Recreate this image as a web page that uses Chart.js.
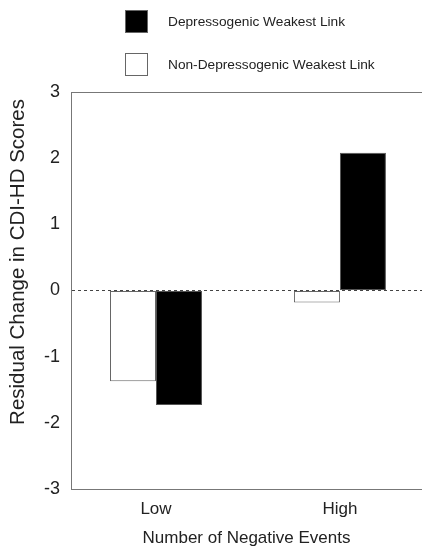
<!DOCTYPE html>
<html><head><meta charset="utf-8">
<script src="https://cdn.jsdelivr.net/npm/chart.js@4/dist/chart.umd.min.js"></script>
<style>html,body{margin:0;padding:0;background:#fff;}canvas{display:block;}</style>
</head><body>
<canvas id="c" width="422" height="548" style="width:422px;height:548px"></canvas>
<script>
const categories = ['Low', 'High'];
const nonDepressogenic = [-1.37, -0.18];
const depressogenic = [-1.73, 2.08];
const seriesLabels = ['Non-Depressogenic Weakest Link', 'Depressogenic Weakest Link'];
const yTicks = [-3, -2, -1, 0, 1, 2, 3];
const yTitle = 'Residual Change in CDI-HD Scores';
const xTitle = 'Number of Negative Events';

const FONT = "'Liberation Sans', Arial, sans-serif";
const toPoints = arr => arr.map((v, i) => ({x: i, y: v}));

const annotPlugin = {
  id: 'sideLegend',
  afterDraw(chart) {
    const ctx = chart.ctx;
    const ds = chart.data.datasets.slice().reverse();
    ctx.save();
    ds.forEach((d, i) => {
      const y = 10 + i * 43;
      ctx.fillStyle = d.backgroundColor;
      ctx.fillRect(125, y, 23, 23);
      ctx.strokeStyle = '#666';
      ctx.lineWidth = 1;
      ctx.strokeRect(125.5, y + 0.5, 22, 22);
      ctx.fillStyle = '#222';
      ctx.font = '13.7px ' + FONT;
      ctx.textBaseline = 'middle';
      ctx.textAlign = 'left';
      ctx.fillText(d.label, 168, y + 12.5);
    });
    // y-axis title
    ctx.translate(18, 262);
    ctx.rotate(-Math.PI / 2);
    ctx.font = '20.5px ' + FONT;
    ctx.textAlign = 'center';
    ctx.textBaseline = 'middle';
    ctx.fillStyle = '#222';
    ctx.fillText(yTitle, 0, 0);
    ctx.restore();
  }
};

const isZero = c => c.tick && c.tick.value === 0;

new Chart(document.getElementById('c'), {
  type: 'bar',
  data: {
    datasets: [
      {label: seriesLabels[0], data: toPoints(nonDepressogenic), backgroundColor: '#ffffff', borderColor: '#666', borderWidth: 1, borderSkipped: false},
      {label: seriesLabels[1], data: toPoints(depressogenic), backgroundColor: '#000000', borderColor: '#555', borderWidth: 1, borderSkipped: false}
    ]
  },
  options: {
    responsive: false,
    animation: false,
    devicePixelRatio: 1,
    categoryPercentage: 0.5,
    barPercentage: 1,
    layout: {padding: {top: 92, left: 0, right: 0, bottom: 0}},
    plugins: {legend: {display: false}, tooltip: {enabled: false}},
    scales: {
      x: {
        type: 'linear',
        min: -0.462,
        max: 1.446,
        offset: false,
        afterBuildTicks: s => { s.ticks = categories.map((c, i) => ({value: i})); },
        afterFit: s => { s.height = 59; },
        grid: {display: false, drawTicks: false},
        border: {display: true, color: '#777', width: 1},
        ticks: {
          padding: 10,
          color: '#222',
          font: {family: FONT, size: 17},
          callback: v => categories[v] ?? ''
        },
        title: {display: true, text: xTitle, color: '#222', font: {family: FONT, size: 17, lineHeight: 1}, padding: {top: 0, bottom: 1}}
      },
      y: {
        min: -3,
        max: 3,
        afterBuildTicks: s => { s.ticks = yTicks.map(v => ({value: v})); },
        afterFit: s => { s.width = 71; },
        grid: {
          drawTicks: false,
          color: c => isZero(c) ? '#444' : (c.tick && c.tick.value === 3 ? '#777' : 'rgba(0,0,0,0)'),
          lineWidth: 1
        },
        border: {display: true, color: '#777', width: 1, dash: c => isZero(c) ? [3, 3] : []},
        ticks: {padding: 11, color: '#222', font: {family: FONT, size: 18}},
        title: {display: false}
      }
    }
  },
  plugins: [annotPlugin]
});
</script>
</body></html>
